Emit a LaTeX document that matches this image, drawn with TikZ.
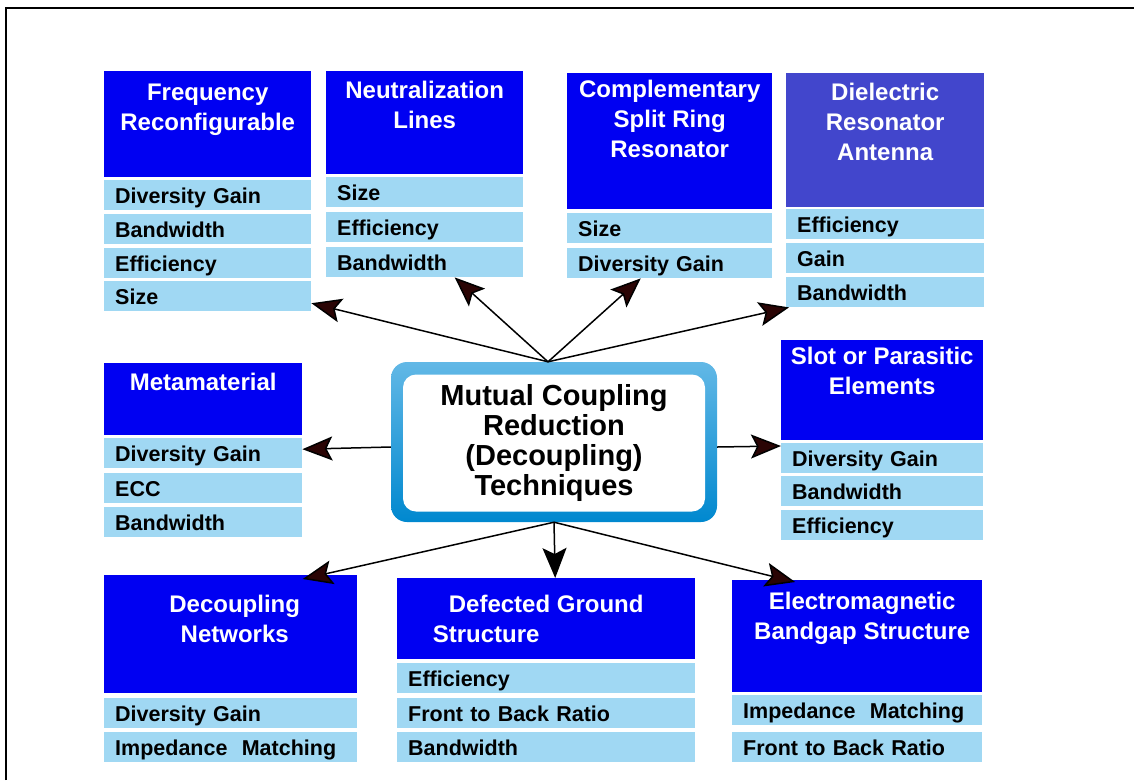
\documentclass[tikz,border=0pt]{standalone}
\usepackage{fontspec}
\setmainfont{Liberation Sans}
\usetikzlibrary{arrows.meta}
\definecolor{hblue}{RGB}{0,0,242}
\definecolor{dblue}{RGB}{66,70,204}
\definecolor{lblue}{RGB}{160,216,243}
\definecolor{rimtop}{RGB}{98,184,230}
\definecolor{rimbot}{RGB}{0,136,207}
\definecolor{tipred}{RGB}{42,4,4}

\begin{document}
\begin{tikzpicture}[x=1pt, y=-1pt,
  head/.style={fill=hblue, anchor=north west, inner sep=0pt},
  htext/.style={anchor=north, align=center, text=white, inner sep=0pt, font=\bfseries\fontsize{24}{30}\selectfont},
  item/.style={fill=lblue, anchor=north west, text width=#1, align=left, minimum height=30pt, text height=18pt, text depth=1pt, inner xsep=11pt, inner ysep=0pt, font=\bfseries\fontsize{21.5}{24}\selectfont},
  conn/.style={line width=1.5pt, -{Stealth[length=30pt,width=24pt,inset=6pt,fill=#1]}},
  conn/.default=tipred]
  \useasboundingbox (0,0) rectangle (1134,780);
  \draw[line width=2pt] (6,780) -- (6,8) -- (1134,8);

  \node[rounded corners=16pt, top color=rimtop, bottom color=rimbot, minimum width=326pt, minimum height=160pt, inner sep=0pt] (mcr) at (554,442) {};
  \node[rounded corners=13pt, fill=white, minimum width=302pt, minimum height=137pt, inner sep=0pt, align=center, font=\bfseries\fontsize{29}{30}\selectfont] (mcrt) at (554,443) {Mutual Coupling\\Reduction\\(Decoupling)\\Techniques};

  \node[head, minimum width=207pt, minimum height=106pt, label={[htext, yshift=-13pt]north:Frequency\\Reconfigurable}] (fr) at (104,71) {};
  \node[item=185pt] (fr1) at (104,180) {Diversity Gain};
  \node[item=185pt] (fr2) at (104,214) {Bandwidth};
  \node[item=185pt] (fr3) at (104,248) {Efficiency};
  \node[item=185pt] (fr4) at (104,281) {Size};

  \node[head, minimum width=197pt, minimum height=103pt, label={[htext, yshift=-10pt]north:Neutralization\\Lines}] (nl) at (326,71) {};
  \node[item=175pt] (nl1) at (326,177) {Size};
  \node[item=175pt] (nl2) at (326,212) {Efficiency};
  \node[item=175pt] (nl3) at (326,247) {Bandwidth};

  \node[head, minimum width=205pt, minimum height=136pt, label={[htext, yshift=-7pt]north:Complementary\\Split Ring\\Resonator}] (cs) at (567,73) {};
  \node[item=183pt] (cs1) at (567,213) {Size};
  \node[item=183pt] (cs2) at (567,248) {Diversity Gain};

  \node[head, fill=dblue, minimum width=198pt, minimum height=134pt, label={[htext, yshift=-10pt]north:Dielectric\\Resonator\\Antenna}] (dr) at (786,73) {};
  \node[item=176pt] (dr1) at (786,209) {Efficiency};
  \node[item=176pt] (dr2) at (786,243) {Gain};
  \node[item=176pt] (dr3) at (786,277) {Bandwidth};

  \node[head, minimum width=198pt, minimum height=72pt, label={[htext, yshift=-10pt]north:Metamaterial}] (mm) at (104,363) {};
  \node[item=176pt] (mm1) at (104,438) {Diversity Gain};
  \node[item=176pt] (mm2) at (104,473) {ECC};
  \node[item=176pt] (mm3) at (104,507) {Bandwidth};

  \node[head, minimum width=202pt, minimum height=100pt, label={[htext, yshift=-7pt]north:Slot or Parasitic\\Elements}] (sp) at (781,340) {};
  \node[item=180pt] (sp1) at (781,443) {Diversity Gain};
  \node[item=180pt] (sp2) at (781,476) {Bandwidth};
  \node[item=180pt] (sp3) at (781,510) {Efficiency};

  \node[head, minimum width=253pt, minimum height=118pt, label={[htext, yshift=-20pt, xshift=4pt]north:Decoupling\\Networks}] (dn) at (104,575) {};
  \node[item=231pt] (dn1) at (104,698) {Diversity Gain};
  \node[item=231pt] (dn2) at (104,732) {Impedance\ \ Matching};

  \node[head, minimum width=298pt, minimum height=81pt, label={[htext, align=left, yshift=-17pt, xshift=-8pt]north:\hspace*{16pt}Defected Ground\\Structure}] (dg) at (397,578) {};
  \node[item=276pt] (dg1) at (397,663) {Efficiency};
  \node[item=276pt] (dg2) at (397,698) {Front to Back Ratio};
  \node[item=276pt] (dg3) at (397,732) {Bandwidth};

  \node[head, minimum width=250pt, minimum height=112pt, label={[htext, yshift=-12pt, xshift=5pt]north:Electromagnetic\\Bandgap Structure}] (eb) at (732,580) {};
  \node[item=228pt] (eb1) at (732,695) {Impedance\ \ Matching};
  \node[item=228pt] (eb2) at (732,732) {Front to Back Ratio};

  \draw[conn] ([xshift=-6pt]mcr.north) -- ([yshift=-7pt]fr4.east);
  \draw[conn] ([xshift=-6pt]mcr.north) -- ([xshift=30pt]nl3.south);
  \draw[conn] ([xshift=-6pt]mcr.north) -- ([xshift=-29pt]cs2.south);
  \draw[conn] ([xshift=-6pt]mcr.north) -- ([xshift=3pt]dr3.south west);
  \draw[conn] ([yshift=-5pt]mcr.west) -- ([yshift=4pt]mm1.east);
  \draw[conn] ([yshift=-5pt]mcr.east) -- ([yshift=-3pt]sp1.north west);
  \draw[conn] (mcr.south) -- ([xshift=72pt, yshift=-4pt]dn.north);
  \draw[conn=black] (mcr.south) -- ([xshift=9pt]dg.north);
  \draw[conn] (mcr.south) -- ([xshift=-62pt, yshift=-2pt]eb.north);
\end{tikzpicture}
\end{document}
